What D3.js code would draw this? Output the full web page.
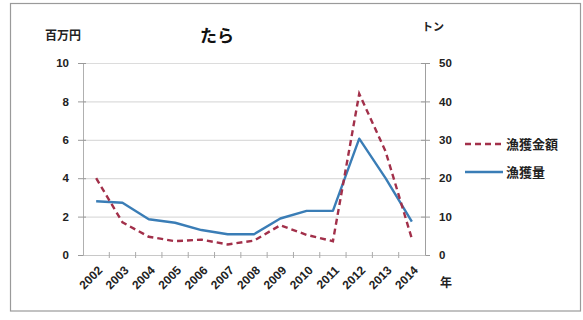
<!DOCTYPE html>
<html>
<head>
<meta charset="utf-8">
<script src="https://cdn.jsdelivr.net/npm/d3@7"></script>
<style>
  html, body { margin: 0; padding: 0; background: #fff; }
  svg { display: block; font-family: "Noto Sans CJK JP", "Noto Sans", sans-serif; }
</style>
</head>
<body>
<svg id="chart" width="583" height="320"></svg>
<script>
// 漁獲データ（たら）
const years = ["2002","2003","2004","2005","2006","2007","2008","2009","2010","2011","2012","2013","2014"];
const catchValue = [4.0, 1.7, 0.95, 0.72, 0.8, 0.55, 0.75, 1.55, 1.05, 0.72, 8.4, 5.4, 0.85]; // 百万円
const catchVolume = [14, 13.6, 9.3, 8.4, 6.5, 5.4, 5.4, 9.5, 11.5, 11.5, 30.3, 20, 8.7]; // トン
const leftTicks = [0, 2, 4, 6, 8, 10];
const rightTicks = [0, 10, 20, 30, 40, 50];
const seriesNames = ["漁獲金額", "漁獲量"];

const svg = d3.select("#chart");
const plot = { left: 83, right: 425, top: 63, bottom: 255 };

// 外枠
svg.append("rect")
  .attr("x", 10.5).attr("y", 3.5).attr("width", 570).attr("height", 307.5)
  .attr("fill", "none").attr("stroke", "#9a9a9a").attr("stroke-width", 1.2);

const x = d3.scaleBand().domain(years).range([plot.left, plot.right]);
const yL = d3.scaleLinear().domain([0, 10]).range([plot.bottom, plot.top]);
const yR = d3.scaleLinear().domain([0, 50]).range([plot.bottom, plot.top]);

// 横の目盛線
svg.append("g").selectAll("line").data(leftTicks).join("line")
  .attr("x1", plot.left).attr("x2", plot.right)
  .attr("y1", d => yL(d) + 0.5).attr("y2", d => yL(d) + 0.5)
  .attr("stroke", "#dcdcdc").attr("stroke-width", 1.2);

// 左軸
const gL = svg.append("g").attr("transform", `translate(${plot.left},0)`)
  .call(d3.axisLeft(yL).tickValues(leftTicks).tickSize(5).tickPadding(9));
gL.select(".domain").attr("stroke", "#b0b0b0");
gL.selectAll(".tick line").attr("stroke", "#999").attr("x2", 3).attr("x1", -5);
gL.selectAll("text").attr("font-size", 11.5).attr("font-weight", "bold").attr("fill", "#222")
  .attr("font-family", "Liberation Sans, Arial, sans-serif");

// 右軸
const gR = svg.append("g").attr("transform", `translate(${plot.right},0)`)
  .call(d3.axisRight(yR).tickValues(rightTicks).tickSize(5).tickPadding(9));
gR.select(".domain").attr("stroke", "#a0a0a0");
gR.selectAll(".tick line").attr("stroke", "#999").attr("x1", -4).attr("x2", 5);
gR.selectAll("text").attr("font-size", 11.5).attr("font-weight", "bold").attr("fill", "#222")
  .attr("font-family", "Liberation Sans, Arial, sans-serif");

// 下軸（年）
const gB = svg.append("g").attr("transform", `translate(0,${plot.bottom})`)
  .call(d3.axisBottom(x).tickSize(0).tickPadding(0));
gB.select(".domain").attr("stroke", "#c8c8c8");
gB.selectAll(".tick text")
  .attr("font-size", 12).attr("font-weight", "bold").attr("fill", "#222")
  .attr("font-family", "Liberation Sans, Arial, sans-serif")
  .attr("text-anchor", "end")
  .attr("dy", 0)
  .attr("transform", "translate(7,16) rotate(-45)");
// 区切り目盛
svg.append("g").selectAll("line").data(years.slice(1)).join("line")
  .attr("x1", d => x(d)).attr("x2", d => x(d))
  .attr("y1", plot.bottom - 3).attr("y2", plot.bottom + 3)
  .attr("stroke", "#aaa");

// 系列線
const lineL = d3.line().x((d, i) => x(years[i]) + x.bandwidth() / 2).y(d => yL(d)).curve(d3.curveLinear);
const lineR = d3.line().x((d, i) => x(years[i]) + x.bandwidth() / 2).y(d => yR(d)).curve(d3.curveLinear);

svg.append("path").datum(catchVolume).attr("d", lineR)
  .attr("fill", "none").attr("stroke", "#3a7db6").attr("stroke-width", 2.4)
  .attr("stroke-linejoin", "round");
svg.append("path").datum(catchValue).attr("d", lineL)
  .attr("fill", "none").attr("stroke", "#a2304a").attr("stroke-width", 2.4)
  .attr("stroke-dasharray", "6,4");

// タイトルと単位
svg.append("text").attr("x", 200).attr("y", 42).text("たら")
  .attr("font-size", 17).attr("font-weight", "bold").attr("fill", "#111");
svg.append("text").attr("x", 45).attr("y", 40).text("百万円")
  .attr("font-size", 12).attr("font-weight", "bold").attr("fill", "#222");
svg.append("text").attr("x", 422).attr("y", 31).text("トン")
  .attr("font-size", 11).attr("font-weight", "bold").attr("fill", "#222");
svg.append("text").attr("x", 440).attr("y", 287).text("年")
  .attr("font-size", 12).attr("font-weight", "bold").attr("fill", "#222");

// 凡例
const legend = svg.append("g");
const legendItems = [
  { name: seriesNames[0], color: "#a2304a", dash: "6,4", y: 144 },
  { name: seriesNames[1], color: "#3a7db6", dash: null, y: 172 }
];
legendItems.forEach(it => {
  legend.append("line").attr("x1", 465).attr("x2", 503).attr("y1", it.y).attr("y2", it.y)
    .attr("stroke", it.color).attr("stroke-width", 2.4).attr("stroke-dasharray", it.dash);
  legend.append("text").attr("x", 506).attr("y", it.y + 5).text(it.name)
    .attr("font-size", 13).attr("font-weight", "bold").attr("fill", "#222");
});
</script>
</body>
</html>
